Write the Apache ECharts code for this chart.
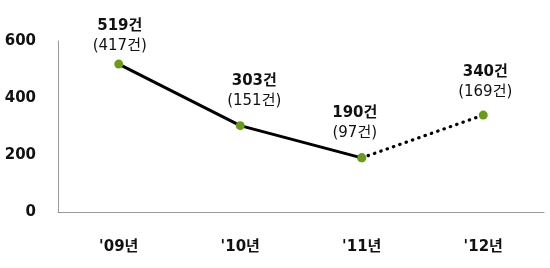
<!DOCTYPE html>
<html><head><meta charset="utf-8">
<script src="https://cdn.jsdelivr.net/npm/echarts@6/dist/echarts.min.js"></script>
<style>html,body{margin:0;padding:0;background:#fff}#c{width:550px;height:268px}</style>
</head><body><div id="c"></div>
<script>
var categories = ["'09년", "'10년", "'11년", "'12년"];
var totals = [519, 303, 190, 340];
var subTotals = [417, 151, 97, 169];
var yTicks = [0, 200, 400, 600];

var labelOffsets = [[1, 0], [14, -7.5], [-7, -7.5], [2, -5.5]];
var FONT = "'DejaVu Sans', 'Noto Sans CJK KR', sans-serif";

function labelFmt(i){ return '{a|' + totals[i] + '건}\n{b|(' + subTotals[i] + '건)}'; }
function pt(i) {
  return {
    value: totals[i],
    label: {
      show: true, position: 'top', distance: 3, offset: labelOffsets[i],
      formatter: labelFmt(i)
    }
  };
}

var solid = [], dotted = [];
for (var i = 0; i < totals.length; i++) {
  solid.push(i < 3 ? pt(i) : null);
  if (i === 3) dotted.push(pt(i));
  else if (i === 2) dotted.push({value: totals[i], label: {show: false}});
  else dotted.push(null);
}
var rich = {
  a: {fontFamily: FONT, fontSize: 15, fontWeight: 'bold', color: '#111', lineHeight: 20},
  b: {fontFamily: FONT, fontSize: 15, color: '#111', lineHeight: 20}
};

var chart = echarts.init(document.getElementById('c'));
chart.setOption({
  animation: false,
  grid: {left: 58, right: 6, top: 41, bottom: 56, containLabel: false},
  xAxis: {
    type: 'category', data: categories, boundaryGap: true,
    axisLine: {lineStyle: {color: '#999', width: 1}},
    axisTick: {show: false},
    axisLabel: {margin: 28, fontFamily: FONT, fontSize: 15, fontWeight: 'bold', color: '#111'}
  },
  yAxis: {
    type: 'value', min: yTicks[0], max: yTicks[yTicks.length - 1], interval: 200,
    axisLine: {show: true, lineStyle: {color: '#999', width: 1}},
    axisTick: {show: false},
    splitLine: {show: false},
    axisLabel: {margin: 22, fontFamily: FONT, fontSize: 15, fontWeight: 'bold', color: '#111'}
  },
  series: [
    {
      type: 'line', data: solid, connectNulls: false,
      symbol: 'circle', symbolSize: 9,
      itemStyle: {color: '#6b9b1c'},
      lineStyle: {color: '#000', width: 3},
      label: {rich: rich}, z: 3
    },
    {
      type: 'line', data: dotted, connectNulls: false,
      symbol: 'circle', symbolSize: 9,
      itemStyle: {color: '#6b9b1c'},
      lineStyle: {color: '#000', width: 3.2, type: [0.5, 6.2], cap: 'round'},
      label: {rich: rich}, z: 2
    }
  ]
});
</script></body></html>
